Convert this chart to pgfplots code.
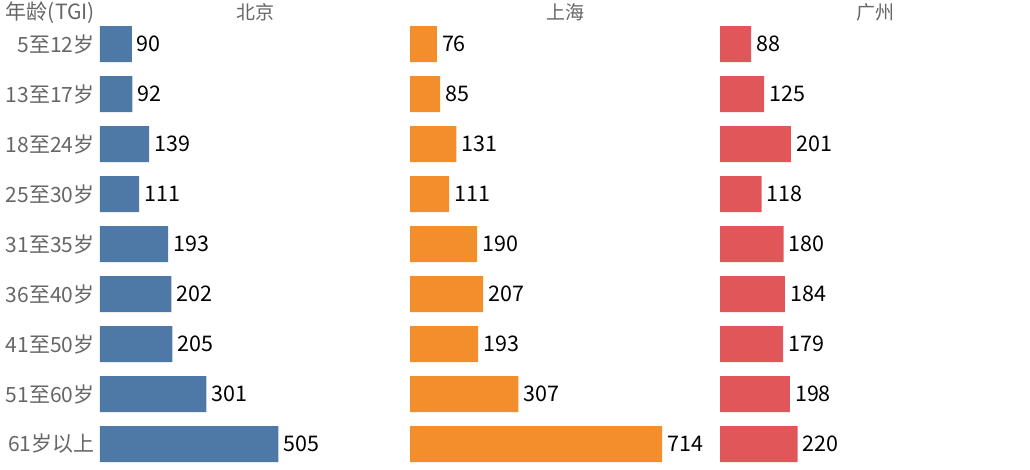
\documentclass[border=0pt]{standalone}
\usepackage{pgfplots}
\pgfplotsset{compat=1.18}
\usepackage{fontspec}
\setmainfont{Noto Sans CJK SC}
\definecolor{bj}{HTML}{4E79A7}
\definecolor{sh}{HTML}{F28E2B}
\definecolor{gz}{HTML}{E15759}
\definecolor{lab}{HTML}{666666}

\pgfplotstableread{
k bj sh gz
0 90 76 88
1 92 85 125
2 139 131 201
3 111 111 118
4 193 190 180
5 202 207 184
6 205 193 179
7 301 307 198
8 505 714 220
}\tgi

\pgfplotsset{
  panel/.style={
    scale only axis, width=310pt, height=450pt,
    anchor=south west,
    xmin=0, xmax=878, ymin=-0.5, ymax=8.5, y dir=reverse,
    axis line style={draw=none}, tick style={draw=none}, clip=false,
    xtick=\empty, ytick={0,...,8}, yticklabels={},
    /pgf/number format/assume math mode=true,
    xbar, bar width=36pt, bar shift=0pt,
    nodes near coords,
    every node near coord/.append style={anchor=west, black, font=\fontsize{21.5}{24}\selectfont, inner sep=0pt, xshift=5pt},
  }
}

\begin{document}
\begin{tikzpicture}
\useasboundingbox (0,0) rectangle (1030pt,469pt);
\begin{axis}[panel, at={(100pt,0pt)},
  yticklabels={5至12岁,13至17岁,18至24岁,25至30岁,31至35岁,36至40岁,41至50岁,51至60岁,61岁以上},
  yticklabel style={anchor=east, inner sep=0pt, xshift=-1pt, text=lab, font=\fontsize{21}{24}\selectfont}]
\addplot[fill=bj, draw=none] table[x=bj, y=k] {\tgi};
\node[anchor=base east, inner sep=0pt, xshift=-5pt, yshift=0pt, text=lab, font=\fontsize{21}{24}\selectfont] at (rel axis cs:0,1) {年龄(TGI)};
\node[anchor=base, inner sep=0pt, text=lab, font=\fontsize{19}{22}\selectfont] at (rel axis cs:0.5,1) {北京};
\end{axis}
\begin{axis}[panel, at={(410pt,0pt)}]
\addplot[fill=sh, draw=none] table[x=sh, y=k] {\tgi};
\node[anchor=base, inner sep=0pt, text=lab, font=\fontsize{19}{22}\selectfont] at (rel axis cs:0.5,1) {上海};
\end{axis}
\begin{axis}[panel, at={(720pt,0pt)}]
\addplot[fill=gz, draw=none] table[x=gz, y=k] {\tgi};
\node[anchor=base, inner sep=0pt, text=lab, font=\fontsize{19}{22}\selectfont] at (rel axis cs:0.5,1) {广州};
\end{axis}
\end{tikzpicture}
\end{document}
